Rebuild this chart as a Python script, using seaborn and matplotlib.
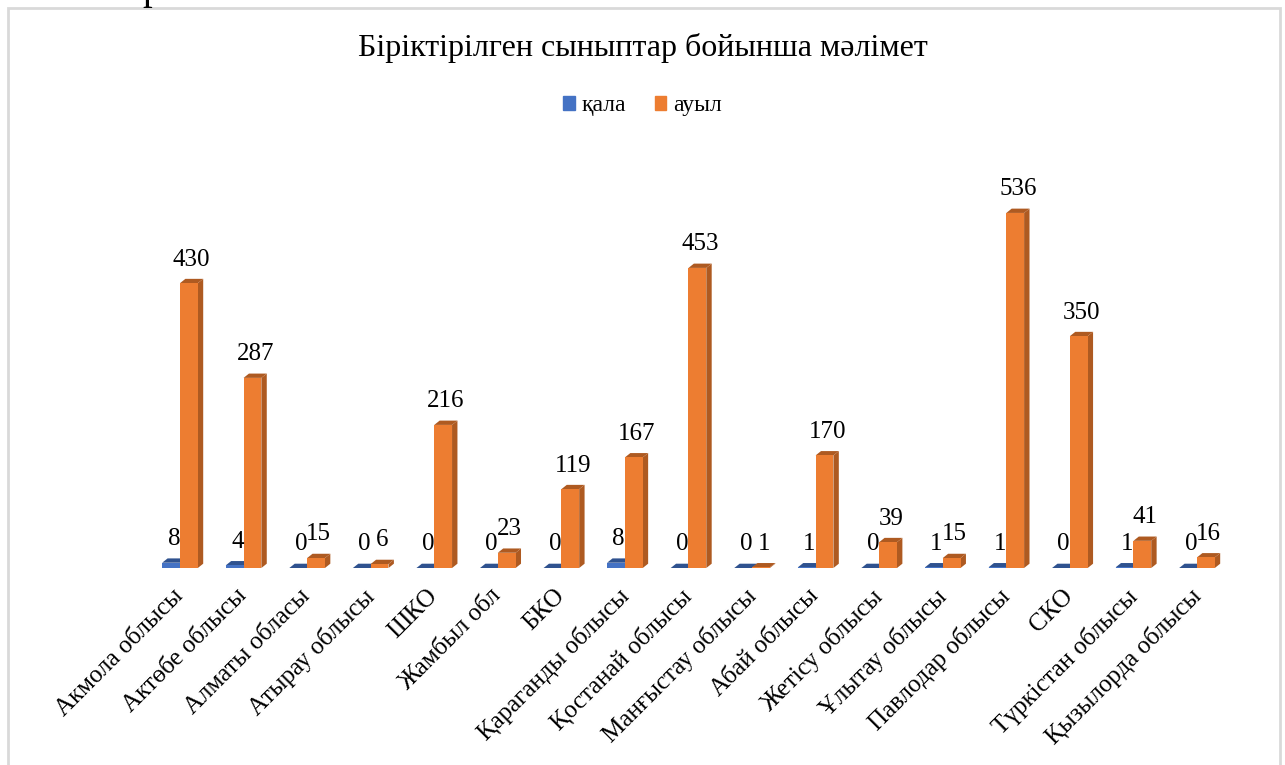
import matplotlib
matplotlib.use("Agg")
import matplotlib.pyplot as plt
import matplotlib.transforms as mtrans
from matplotlib.patches import Polygon, Rectangle
import seaborn as sns
import pandas as pd

# облыстар
regions = ["Акмола облысы", "Актөбе облысы", "Алматы обласы", "Атырау облысы",
           "ШКО", "Жамбыл обл", "БКО", "Қараганды облысы", "Қостанай облысы",
           "Манғыстау облысы", "Абай облысы", "Жетісу облысы", "Ұлытау облысы",
           "Павлодар облысы", "СКО", "Түркістан облысы", "Қызылорда облысы"]
kala = [8, 4, 0, 0, 0, 0, 0, 8, 0, 0, 1, 0, 1, 1, 0, 1, 0]
auyl = [430, 287, 15, 6, 216, 23, 119, 167, 453, 1, 170, 39, 15, 536, 350, 41, 16]
series = ["қала", "ауыл"]
colors = {"қала": "#4472C4", "ауыл": "#ED7D31"}
dark = {"қала": "#2F528F", "ауыл": "#AE5A21"}

df = pd.DataFrame({
    "region": regions * 2,
    "value": kala + auyl,
    "series": [series[0]] * len(regions) + [series[1]] * len(regions),
})

sns.set_style("white")
plt.rcParams["font.family"] = ["Liberation Serif", "DejaVu Serif"]
plt.rcParams["text.color"] = "black"
plt.rcParams["xtick.color"] = "black"

fig = plt.figure(figsize=(12.85, 7.65), dpi=100)
ax = fig.add_axes([60 / 1285, 1 - 568 / 765, 1190 / 1285, 418 / 765])

sns.barplot(data=df, x="region", y="value", hue="series", order=regions,
            hue_order=series, palette=colors, width=0.56, linewidth=0,
            saturation=1, legend=False, ax=ax)

ax.set_xlim(-1.888, 16.834)
ax.set_ylim(0, 631)

# псевдо-3D
dx, dy = 0.085, 6.5
for cont, name in zip(ax.containers, series):
    for bar in cont:
        x, w, h = bar.get_x(), bar.get_width(), bar.get_height()
        side = Polygon([(x + w, 0), (x + w + dx, dy), (x + w + dx, h + dy), (x + w, h)],
                       closed=True, color=dark[name], lw=0, zorder=0.6)
        top = Polygon([(x, h), (x + dx, h + dy), (x + w + dx, h + dy), (x + w, h)],
                      closed=True, color=dark[name], lw=0, zorder=0.6)
        ax.add_patch(side)
        ax.add_patch(top)
        ax.annotate(f"{int(h)}", (x + w / 2 + dx / 2, h + dy), xytext=(0, 6),
                    textcoords="offset points", ha="center", va="bottom",
                    fontsize=18, color="black")

sns.despine(ax=ax, left=True, bottom=True)
ax.set_yticks([])
ax.set_xlabel("")
ax.set_ylabel("")
ax.tick_params(axis="x", length=0, pad=12)
shift = mtrans.ScaledTranslation(-8 / 100, 0, fig.dpi_scale_trans)
for lbl in ax.get_xticklabels():
    lbl.set_rotation(45)
    lbl.set_ha("right")
    lbl.set_va("top")
    lbl.set_rotation_mode("anchor")
    lbl.set_fontsize(18)
    lbl.set_transform(lbl.get_transform() + shift)

fig.suptitle("Біріктірілген сыныптар бойынша мәлімет", y=1 - 48 / 765,
             va="center", fontsize=23, color="black")

handles = [Rectangle((0, 0), 1, 1, color=colors[s]) for s in series]
fig.legend(handles, series, loc="center", bbox_to_anchor=(0.5, 1 - 106 / 765),
           ncol=2, frameon=False, fontsize=17, handlelength=0.5,
           handleheight=0.5, handletextpad=0.3, columnspacing=1.2)

# рамка
fig.patches.append(Rectangle((8 / 1285, -0.05), 1272 / 1285, 1.05 - 8 / 765,
                             transform=fig.transFigure, fill=False,
                             edgecolor="#D9D9D9", lw=2))
fig.text(152 / 1285, 1 + 1 / 765, "р", fontsize=28, ha="center", va="baseline")

fig.savefig("out.png", dpi=100)
